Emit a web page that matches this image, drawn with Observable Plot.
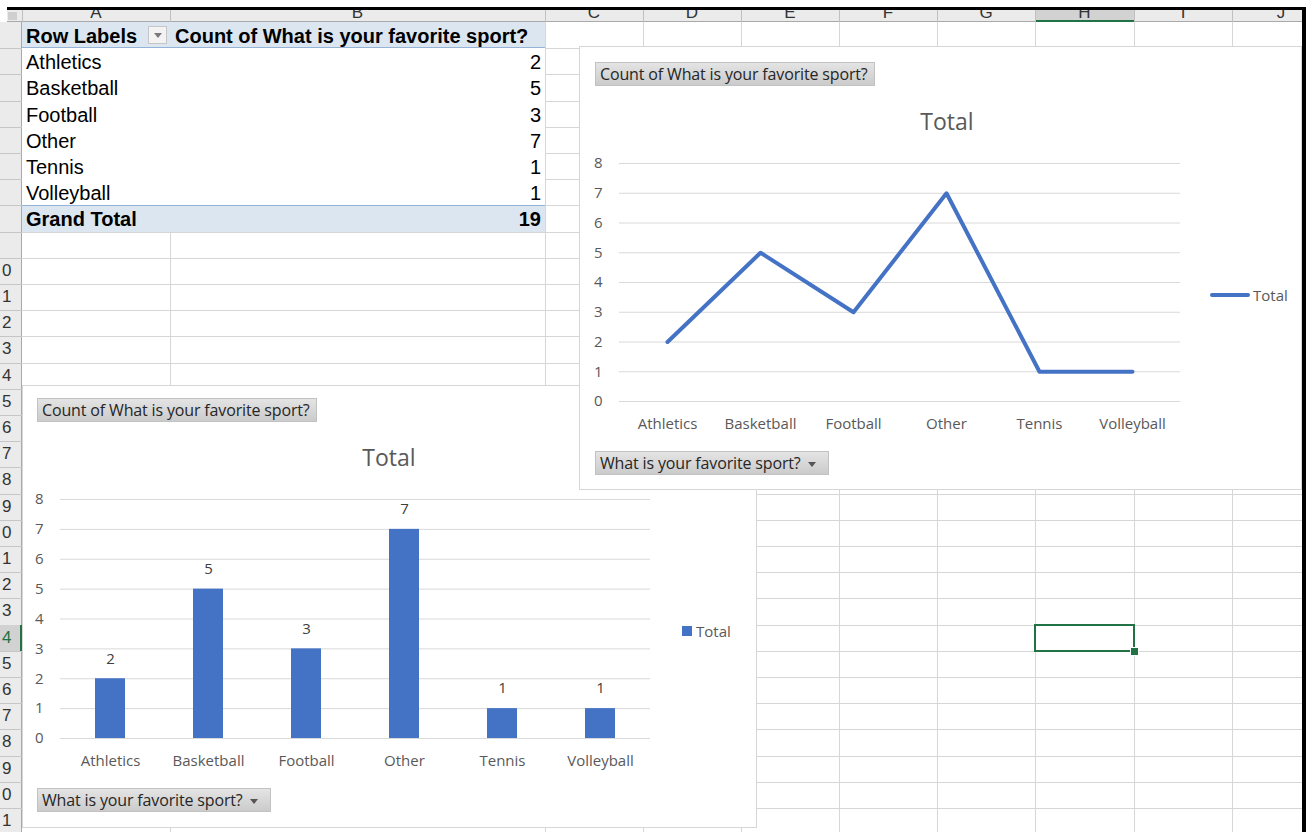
<!DOCTYPE html>
<html>
<head>
<meta charset="utf-8">
<script src="https://cdn.jsdelivr.net/npm/d3@7"></script>
<script src="https://cdn.jsdelivr.net/npm/@observablehq/plot@0.6"></script>
<style>
html,body{margin:0;padding:0;background:#fff;}
#page{position:relative;width:1312px;height:832px;overflow:hidden;background:#fff;font-family:"Liberation Sans",Arial,sans-serif;}
.btn{position:absolute;box-sizing:border-box;height:24px;line-height:22px;padding:0 4px;background:linear-gradient(#e4e4e4,#cbcbcb);border:1px solid #c2c2c2;color:#262626;font-family:"Open Sans",sans-serif;font-size:16px;letter-spacing:-0.15px;white-space:nowrap;}
.chartbox{position:absolute;box-sizing:border-box;background:#fff;border:1px solid #d6d6d6;}
.ctitle{position:absolute;font-family:"Open Sans",sans-serif;font-size:23px;color:#595959;transform:translate(-50%,-50%);white-space:nowrap;}
.legtext{position:absolute;font-family:"Open Sans",sans-serif;font-size:15px;color:#595959;line-height:18px;white-space:nowrap;}
</style>
</head>
<body>
<div id="page"></div>
<script>
// ---------- data ----------
const sports = ["Athletics", "Basketball", "Football", "Other", "Tennis", "Volleyball"];
const counts = [2, 5, 3, 7, 1, 1];
const yTicks = [0, 1, 2, 3, 4, 5, 6, 7, 8];
const columnLetters = ["A", "B", "C", "D", "E", "F", "G", "H", "I", "J"];
const rowNumbers = [10, 11, 12, 13, 14, 15, 16, 17, 18, 19, 20, 21, 22, 23, 24, 25, 26, 27, 28, 29, 30, 31];
const pivotHeaders = ["Row Labels", "Count of What is your favorite sport?"];
const grandTotalLabel = "Grand Total";
const chartTitle = "Total";
const seriesName = "Total";
const valueFieldLabel = "Count of What is your favorite sport?";
const axisFieldLabel = "What is your favorite sport?";

const data = sports.map((s, i) => ({sport: s, count: counts[i]}));
const grandTotal = d3.sum(counts);

// ---------- helpers ----------
const page = document.getElementById("page");
function el(css, text, parent = page, tag = "div") {
  const e = document.createElement(tag);
  e.style.cssText = "position:absolute;" + css;
  if (text != null) e.textContent = text;
  parent.appendChild(e);
  return e;
}
const CF = '"Open Sans", sans-serif';
const BLUE = "#4472c4";

// ---------- spreadsheet grid ----------
const colEdges = [22, 170, 545, 643, 741, 839, 937, 1035, 1134, 1232, 1330];
const rowTop = 22, rowH = 26.2;
for (const x of colEdges.slice(1)) el(`left:${x}px;top:22px;width:1px;height:820px;background:#d6d6d6;`);
for (let k = 1; k <= 31; k++) el(`left:22px;top:${rowTop + k * rowH}px;width:1300px;height:1px;background:#d6d6d6;`);

// column header
el(`left:0;top:0;width:1312px;height:21px;background:#ebebeb;border-bottom:1px solid #a9a9a9;`);
el(`left:1035px;top:0;width:99px;height:20px;background:#d2d2d2;border-bottom:2px solid #217346;`);
for (const x of colEdges) el(`left:${x}px;top:8px;width:1px;height:14px;background:#c0c0c0;`);
columnLetters.forEach((c, i) => {
  const cx = (colEdges[i] + colEdges[i + 1]) / 2;
  el(`left:${cx - 20}px;top:4px;width:40px;text-align:center;font-size:17px;line-height:18px;color:#333;`, c);
});
el(`left:0;top:0;width:7px;height:22px;background:#fff;`);
el(`left:8px;top:12px;width:9px;height:8px;background:#cfcfcf;`);

// row header (only the right-hand digit of each row number is in view)
el(`left:0;top:22px;width:21px;height:820px;background:#ebebeb;border-right:1px solid #a9a9a9;`);
for (let k = 1; k <= 31; k++) el(`left:0;top:${rowTop + k * rowH}px;width:22px;height:1px;background:#c6c6c6;`);
rowNumbers.forEach(r => {
  const top = rowTop + (r - 1) * rowH;
  const sel = r === 24;
  if (sel) el(`left:0;top:${top}px;width:20px;height:${rowH}px;background:#d2d2d2;border-right:2px solid #217346;`);
  el(`left:2px;top:${top}px;height:${rowH}px;line-height:${rowH}px;font-size:17px;color:${sel ? "#217346" : "#333"};`, String(r % 10));
});

// selected cell H24
el(`left:1034px;top:${rowTop + 23 * rowH - 1}px;width:101px;height:${rowH + 2}px;box-sizing:border-box;border:2px solid #217346;`);
el(`left:1130px;top:${rowTop + 24 * rowH - 4}px;width:7px;height:7px;background:#217346;border:1px solid #fff;`);

// ---------- pivot table ----------
const pv = el(`left:22px;top:22px;width:523px;height:${rowH * 8}px;background:#fff;font-size:20px;color:#000;`);
el(`left:0;top:0;width:523px;height:${rowH - 1}px;background:#dce6f1;border-bottom:1px solid #95b3d7;`, null, pv);
el(`left:4px;top:1px;line-height:${rowH}px;font-weight:bold;`, pivotHeaders[0], pv);
const dd = el(`left:126px;top:4px;width:19px;height:18px;box-sizing:border-box;background:#f3f3f3;border:1px solid #c6c6c6;`, null, pv);
el(`left:5px;top:6px;width:0;height:0;border-left:4px solid transparent;border-right:4px solid transparent;border-top:5px solid #7a7a7a;`, null, dd);
el(`left:153px;top:1px;line-height:${rowH}px;font-weight:bold;`, pivotHeaders[1], pv);
data.forEach((d, i) => {
  const top = rowH * (i + 1) + 1;
  el(`left:4px;top:${top}px;line-height:${rowH}px;`, d.sport, pv);
  el(`left:300px;width:219px;text-align:right;top:${top}px;line-height:${rowH}px;`, String(d.count), pv);
});
el(`left:0;top:${rowH * 7}px;width:523px;height:${rowH}px;background:#dce6f1;border-top:1px solid #95b3d7;box-sizing:border-box;`, null, pv);
el(`left:4px;top:${rowH * 7 + 1}px;line-height:${rowH}px;font-weight:bold;`, grandTotalLabel, pv);
el(`left:300px;width:219px;text-align:right;top:${rowH * 7 + 1}px;line-height:${rowH}px;font-weight:bold;`, String(grandTotal), pv);

// ---------- field button ----------
function button(left, top, width, label, arrow) {
  const b = el(`left:${left}px;top:${top}px;width:${width}px;`, null);
  b.className = "btn";
  b.textContent = label;
  if (arrow) {
    const a = document.createElement("span");
    a.style.cssText = "display:inline-block;margin-left:7px;vertical-align:middle;width:0;height:0;border-left:4px solid transparent;border-right:4px solid transparent;border-top:5px solid #555;";
    b.appendChild(a);
  }
  return b;
}

// ---------- bar chart (behind) ----------
el(`left:22px;top:385px;width:735px;height:443px;`).className = "chartbox";
button(37, 398, 280, valueFieldLabel, false);
const t2 = el(`left:389px;top:457px;`, chartTitle); t2.className = "ctitle";
const bar = Plot.plot({
  width: 634, height: 300,
  marginLeft: 34, marginRight: 10, marginTop: 19, marginBottom: 42,
  style: {background: "transparent", fontFamily: CF, fontSize: "15px", color: "#595959", overflow: "visible"},
  x: {domain: sports, paddingInner: 0.69, paddingOuter: 0.345, label: null, tickSize: 0, tickPadding: 17},
  y: {domain: [0, 8], ticks: yTicks, label: null, tickSize: 0, tickPadding: 17, tickFormat: d3.format("d")},
  marks: [
    Plot.ruleY(yTicks, {stroke: "#d9d9d9", strokeWidth: 1}),
    Plot.barY(data, {x: "sport", y: "count", fill: BLUE}),
    Plot.text(data, {x: "sport", y: "count", text: d => String(d.count), dy: -20, fill: "#404040", fontSize: 15})
  ]
});
const barWrap = el(`left:26px;top:480px;`); barWrap.appendChild(bar);
el(`left:682px;top:626px;width:10px;height:10px;background:${BLUE};`);
el(`left:696px;top:622px;`, seriesName).className = "legtext";
button(37, 788, 234, axisFieldLabel, true);

// ---------- line chart (front) ----------
el(`left:579px;top:46px;width:723px;height:444px;`).className = "chartbox";
button(595, 62, 280, valueFieldLabel, false);
const t1 = el(`left:947px;top:121px;`, chartTitle); t1.className = "ctitle";
const line = Plot.plot({
  width: 605, height: 290,
  marginLeft: 34, marginRight: 10, marginTop: 13, marginBottom: 39,
  style: {background: "transparent", fontFamily: CF, fontSize: "15px", color: "#595959", overflow: "visible"},
  x: {type: "point", domain: sports, padding: 0.5, label: null, tickSize: 0, tickPadding: 17},
  y: {domain: [0, 8], ticks: yTicks, label: null, tickSize: 0, tickPadding: 17, tickFormat: d3.format("d")},
  marks: [
    Plot.ruleY(yTicks, {stroke: "#d9d9d9", strokeWidth: 1}),
    Plot.line(data, {x: "sport", y: "count", stroke: BLUE, strokeWidth: 4, strokeLinecap: "round", strokeLinejoin: "round"})
  ]
});
const lineWrap = el(`left:585px;top:150px;`); lineWrap.appendChild(line);
el(`left:1210px;top:293px;width:40px;height:4px;background:${BLUE};border-radius:2px;`);
el(`left:1253px;top:286px;`, seriesName).className = "legtext";
button(595, 451, 234, axisFieldLabel, true);

// ---------- window frame ----------
el(`left:0;top:0;width:1312px;height:7px;background:#fff;`);
el(`left:7px;top:7px;width:1299px;height:3px;background:#000;`);
el(`left:1302px;top:7px;width:4px;height:825px;background:#000;`);
el(`left:1306px;top:0;width:6px;height:832px;background:#fff;`);
</script>
</body>
</html>
